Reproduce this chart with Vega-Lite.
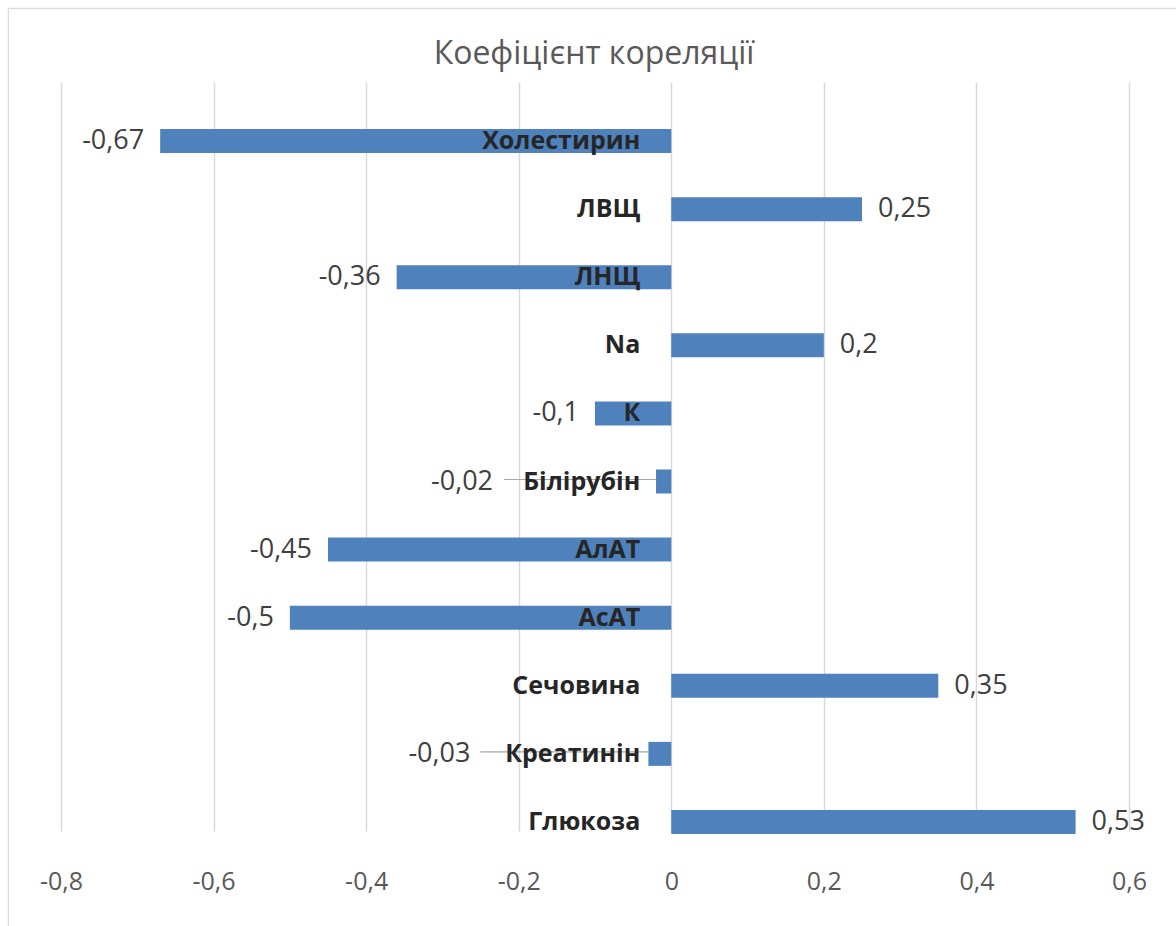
{
  "$schema": "https://vega.github.io/schema/vega-lite/v6.json",
  "autosize": "none",
  "width": 1172,
  "height": 922,
  "padding": {"left": 8, "top": 8, "right": -4, "bottom": -4},
  "background": "white",
  "config": {
    "view": {"stroke": "#d9d9d9", "strokeWidth": 1.2},
    "font": "Open Sans"
  },
  "title": {
    "text": "Коефіцієнт кореляції",
    "fontSize": 32,
    "fontWeight": "normal",
    "color": "#595959",
    "anchor": "middle",
    "frame": "group",
    "offset": -63
  },
  "data": {
    "values": [
      {"name": "Холестирин", "value": -0.67},
      {"name": "ЛВЩ", "value": 0.25},
      {"name": "ЛНЩ", "value": -0.36},
      {"name": "Na", "value": 0.2},
      {"name": "К", "value": -0.1},
      {"name": "Білірубін", "value": -0.02},
      {"name": "АлАТ", "value": -0.45},
      {"name": "АсАТ", "value": -0.5},
      {"name": "Сечовина", "value": 0.35},
      {"name": "Креатинін", "value": -0.03},
      {"name": "Глюкоза", "value": 0.53}
    ]
  },
  "encoding": {
    "y": {
      "field": "name",
      "type": "nominal",
      "sort": null,
      "scale": {"range": [99, 848], "paddingInner": 0.6475, "paddingOuter": 0.32375},
      "axis": null
    }
  },
  "layer": [
    {
      "mark": {"type": "bar", "color": "#4f81bd"},
      "encoding": {
        "x": {
          "field": "value",
          "type": "quantitative",
          "scale": {"domain": [-0.8, 0.6], "range": [53, 1121], "nice": false, "zero": false},
          "axis": {
            "values": [-0.8, -0.6, -0.4, -0.2, 0, 0.2, 0.4, 0.6],
            "labelExpr": "replace(toString(datum.value), '.', ',')",
            "domain": false,
            "ticks": false,
            "tickSize": 0,
            "grid": true,
            "gridColor": "#d9d9d9",
            "gridWidth": 1.5,
            "labelFontSize": 25,
            "labelColor": "#595959",
            "labelPadding": 13,
            "labelFlush": false,
            "labelOverlap": false,
            "offset": -74,
            "title": null
          }
        },
        "x2": {"datum": 0}
      }
    },
    {
      "transform": [{"filter": "abs(datum.value) < 0.05"}],
      "mark": {
        "type": "rule",
        "color": "#a6a6a6",
        "strokeWidth": 1.2,
        "xOffset": {"expr": "datum.value < -0.025 ? -168 : -152"},
        "yOffset": -2
      },
      "encoding": {
        "x": {"field": "value", "type": "quantitative"},
        "x2": {"field": "value"}
      }
    },
    {
      "mark": {
        "type": "text",
        "align": "right",
        "baseline": "middle",
        "dx": -31,
        "fontWeight": "bold",
        "fontSize": 25,
        "color": "#262626"
      },
      "encoding": {
        "x": {"datum": 0},
        "text": {"field": "name"}
      }
    },
    {
      "transform": [
        {"filter": "datum.value <= -0.05"},
        {"calculate": "replace(toString(datum.value), '.', ',')", "as": "label"}
      ],
      "mark": {"type": "text", "align": "right", "baseline": "middle", "dx": -16, "fontSize": 27, "color": "#404040"},
      "encoding": {
        "x": {"field": "value", "type": "quantitative"},
        "text": {"field": "label"}
      }
    },
    {
      "transform": [
        {"filter": "datum.value > 0"},
        {"calculate": "replace(toString(datum.value), '.', ',')", "as": "label"}
      ],
      "mark": {"type": "text", "align": "left", "baseline": "middle", "dx": 16, "fontSize": 27, "color": "#404040"},
      "encoding": {
        "x": {"field": "value", "type": "quantitative"},
        "text": {"field": "label"}
      }
    },
    {
      "transform": [
        {"filter": "abs(datum.value) < 0.05"},
        {"calculate": "replace(toString(datum.value), '.', ',')", "as": "label"}
      ],
      "mark": {
        "type": "text",
        "align": "right",
        "baseline": "middle",
        "dx": {"expr": "datum.value < -0.025 ? -178 : -163"},
        "fontSize": 27,
        "color": "#404040"
      },
      "encoding": {
        "x": {"field": "value", "type": "quantitative"},
        "text": {"field": "label"}
      }
    }
  ]
}
